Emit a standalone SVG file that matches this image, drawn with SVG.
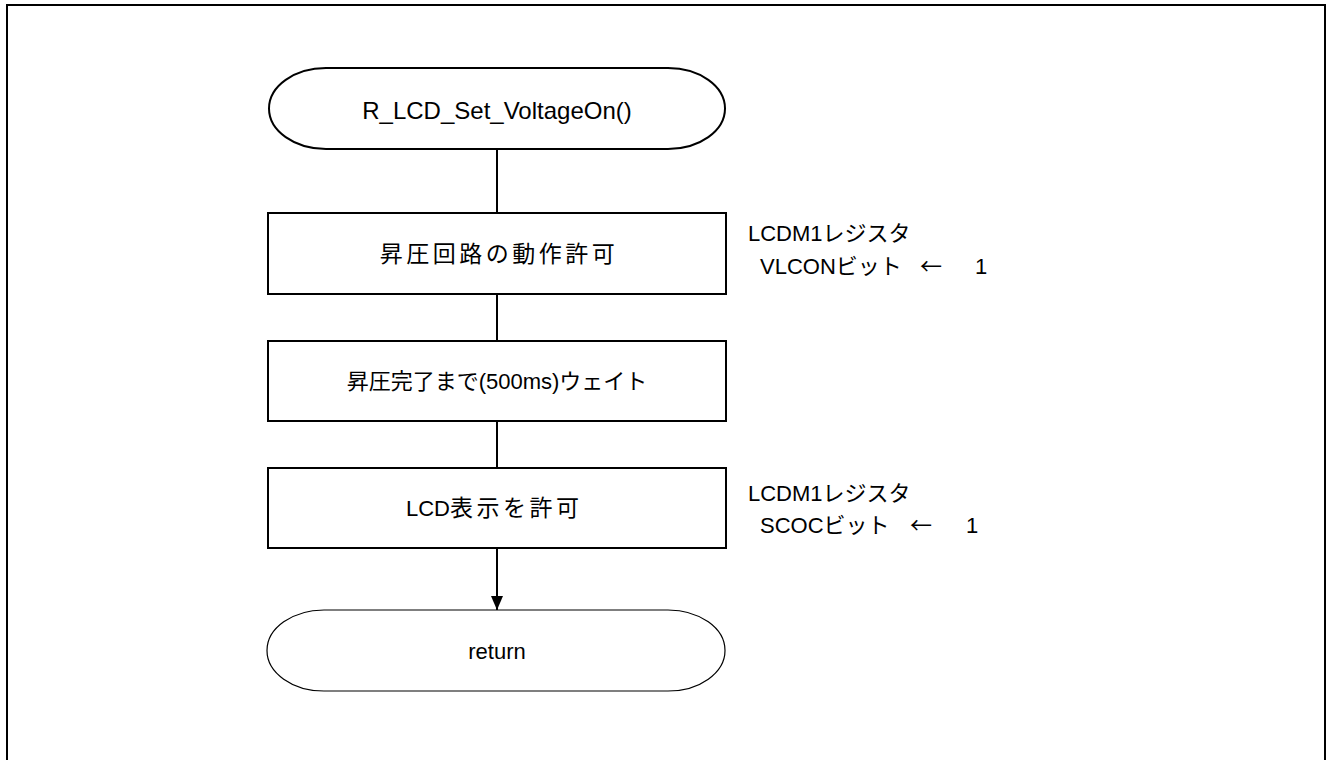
<svg xmlns="http://www.w3.org/2000/svg" width="1327" height="760" viewBox="0 0 1327 760">
<defs>
<style>
.frame{fill:none;stroke:#000;stroke-width:2}
.shape{fill:#fff;stroke:#000;stroke-width:2}
.thin{fill:#fff;stroke:#000;stroke-width:1.2}
.line{fill:none;stroke:#000;stroke-width:2}
text{font-family:"Liberation Sans","Noto Sans CJK JP",sans-serif;font-size:22px;fill:#000}
.c{text-anchor:middle}
.ar{font-family:"Noto Sans CJK JP",sans-serif}
</style>
<marker id="arr" markerWidth="14" markerHeight="12" refX="14" refY="6" orient="auto" markerUnits="userSpaceOnUse">
<path d="M0,0 L14,6 L0,12 Z" fill="#000"/>
</marker>
</defs>
<rect class="frame" x="7" y="5" width="1318" height="800"/>
<g id="connectors">
<line class="line" x1="497" y1="149" x2="497" y2="213"/>
<line class="line" x1="497" y1="294" x2="497" y2="341"/>
<line class="line" x1="497" y1="421" x2="497" y2="468"/>
<line class="line" x1="497" y1="548" x2="497" y2="610" marker-end="url(#arr)"/>
</g>
<g id="start">
<path class="shape" d="M326,68 H668 A57,40.5 0 0 1 668,149 H326 A57,40.5 0 0 1 326,68 Z"/>
<text class="c" x="497" y="119" style="font-size:24px">R_LCD_Set_VoltageOn()</text>
</g>
<g id="step1">
<rect class="shape" x="268" y="213" width="458" height="81"/>
<text class="c" x="499" y="262" style="font-size:23px;letter-spacing:3.5px">昇圧回路の動作許可</text>
</g>
<g id="note1">
<text x="748" y="241">LCDM1レジスタ</text>
<text x="760" y="274">VLCONビット<tspan class="ar" x="920">←</tspan><tspan x="975">1</tspan></text>
</g>
<g id="step2">
<rect class="shape" x="268" y="341" width="458" height="80"/>
<text class="c" x="497" y="389">昇圧完了まで(500ms)ウェイト</text>
</g>
<g id="step3">
<rect class="shape" x="268" y="468" width="458" height="80"/>
<text x="406" y="516">LCD<tspan style="font-size:23px;letter-spacing:3.5px">表示を許可</tspan></text>
</g>
<g id="note3">
<text x="748" y="501">LCDM1レジスタ</text>
<text x="760" y="533">SCOCビット<tspan class="ar" x="910">←</tspan><tspan x="966">1</tspan></text>
</g>
<g id="end">
<path class="thin" d="M324,610 H668 A57,40.5 0 0 1 668,691 H324 A57,40.5 0 0 1 324,610 Z"/>
<text class="c" x="497" y="659">return</text>
</g>
</svg>
